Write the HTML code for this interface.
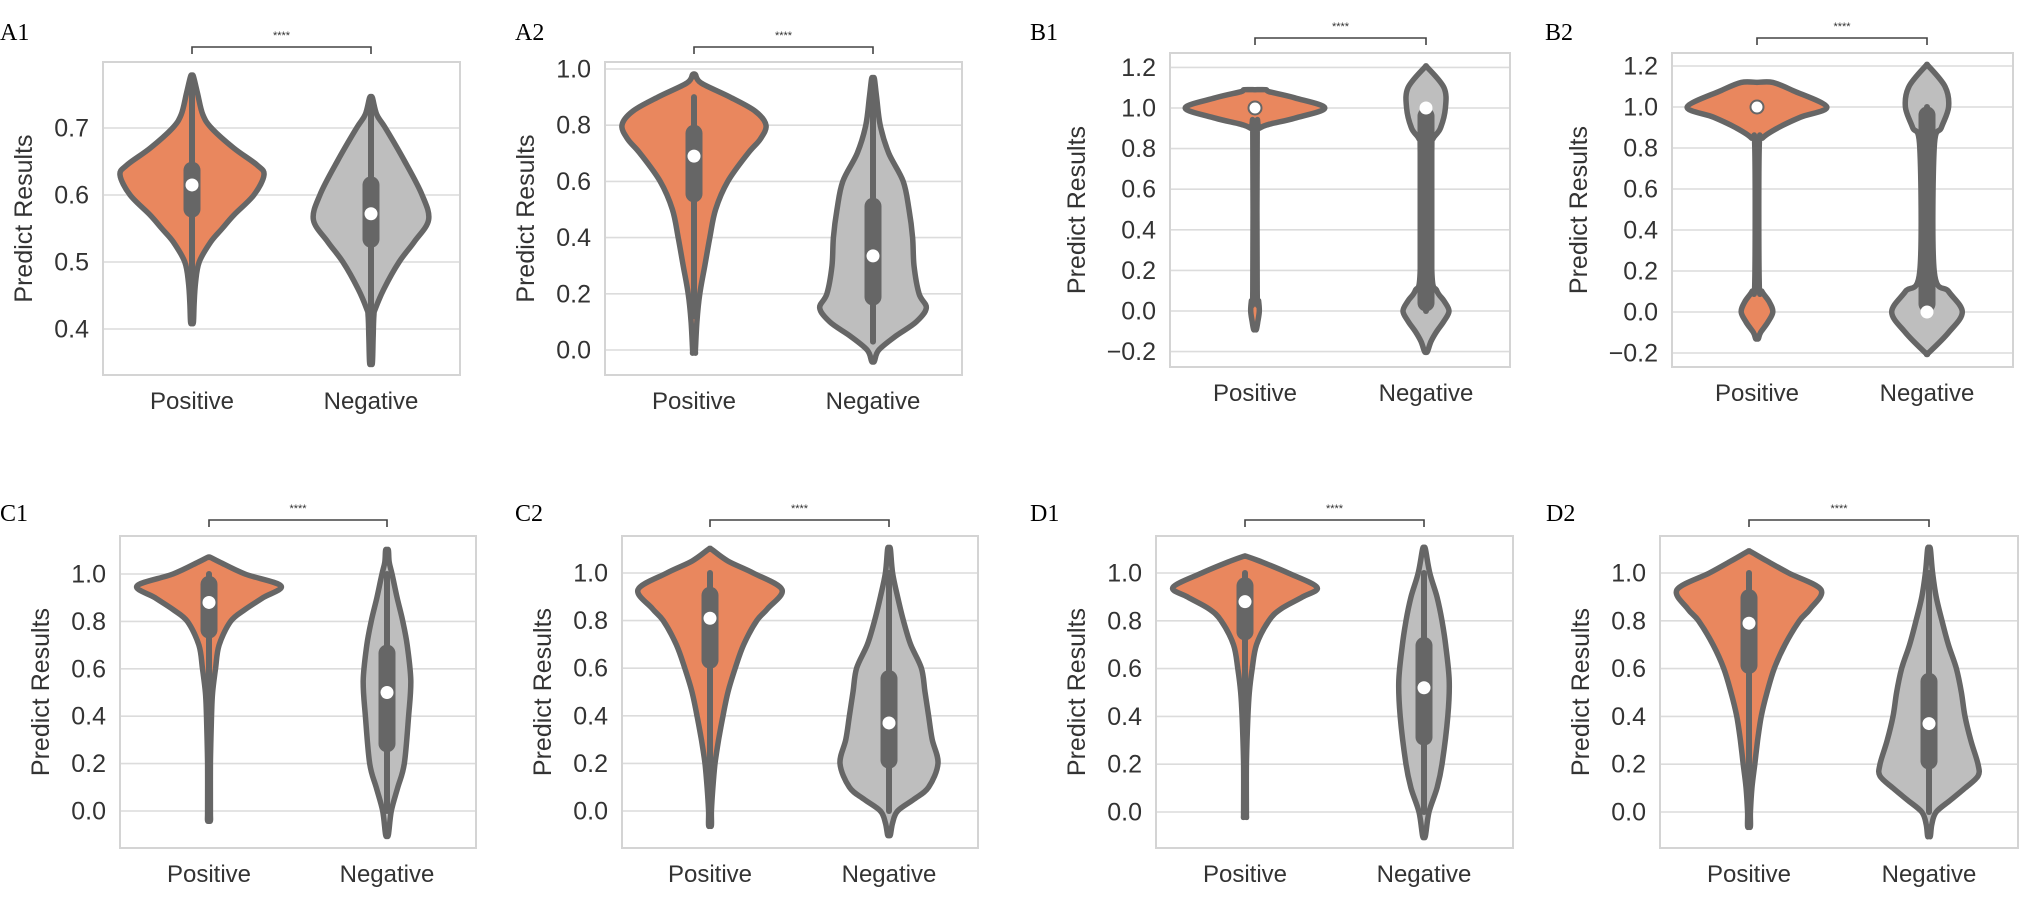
<!DOCTYPE html>
<html><head><meta charset="utf-8"><style>
html,body{margin:0;padding:0;background:#fff;}
svg{display:block;}
text{font-family:"Liberation Sans",Arial,sans-serif;fill:#333;}
.pl{font-family:"Liberation Serif",serif;font-size:24px;fill:#000;}
</style></head><body>
<svg id="fig" width="2031" height="905" viewBox="0 0 2031 905"></svg>
<script>
// ===== data =====
const categories = ["Positive","Negative"];
// tick labels per panel
const ticksA1 = [0.4,0.5,0.6,0.7];
const ticksA2 = [0.0,0.2,0.4,0.6,0.8,1.0];
const ticksB = [-0.2,0.0,0.2,0.4,0.6,0.8,1.0,1.2];
const ticksCD = [0.0,0.2,0.4,0.6,0.8,1.0];
// density profiles (value, relative width)
const a1PosY = [0.777,0.75,0.72,0.70,0.67,0.645,0.63,0.6,0.57,0.55,0.53,0.5,0.47,0.44,0.41];
const a1PosW = [0.02,0.08,0.15,0.27,0.58,0.9,1.0,0.86,0.58,0.42,0.26,0.1,0.05,0.03,0.02];
const a1NegY = [0.745,0.72,0.70,0.65,0.6,0.563,0.53,0.5,0.46,0.43,0.42,0.39,0.35];
const a1NegW = [0.02,0.08,0.2,0.47,0.71,0.8,0.6,0.39,0.18,0.06,0.04,0.03,0.02];
const a2PosY = [0.98,0.95,0.9,0.85,0.8,0.75,0.7,0.6,0.5,0.4,0.3,0.2,0.1,0.0,-0.01];
const a2PosW = [0.02,0.1,0.5,0.85,1.0,0.92,0.75,0.47,0.3,0.22,0.15,0.08,0.04,0.02,0.02];
const a2NegY = [0.965,0.9,0.8,0.7,0.6,0.5,0.4,0.3,0.2,0.15,0.1,0.05,0.0,-0.04];
const a2NegW = [0.02,0.05,0.1,0.22,0.42,0.5,0.55,0.57,0.64,0.74,0.6,0.32,0.08,0.02];
const b1PosY = [1.09,1.08,1.05,1.0,0.95,0.92,0.9,0.88,0.1,0.05,0.0,-0.05,-0.09];
const b1PosW = [0.15,0.2,0.55,0.97,0.55,0.2,0.06,0.03,0.03,0.05,0.06,0.04,0.02];
const b1NegY = [1.2,1.1,1.0,0.9,0.85,0.8,0.2,0.1,0.05,0.0,-0.05,-0.1,-0.15,-0.2];
const b1NegW = [0.02,0.25,0.27,0.2,0.1,0.08,0.08,0.15,0.25,0.32,0.25,0.15,0.07,0.02];
const b2PosY = [1.12,1.08,1.0,0.95,0.9,0.85,0.8,0.15,0.1,0.05,0.0,-0.05,-0.1,-0.13];
const b2PosW = [0.22,0.5,0.97,0.6,0.3,0.08,0.03,0.03,0.07,0.17,0.22,0.15,0.05,0.02];
const b2NegY = [1.2,1.1,1.0,0.9,0.8,0.2,0.1,0.0,-0.1,-0.2];
const b2NegW = [0.02,0.25,0.3,0.2,0.1,0.1,0.3,0.49,0.3,0.02];
const c1PosY = [1.07,1.05,1.0,0.95,0.9,0.85,0.8,0.7,0.6,0.5,0.4,0.2,0.0,-0.04];
const c1PosW = [0.02,0.15,0.5,1.0,0.75,0.5,0.3,0.14,0.09,0.05,0.035,0.02,0.02,0.02];
const c1NegY = [1.1,1.05,1.0,0.9,0.8,0.7,0.55,0.4,0.2,0.1,0.0,-0.1];
const c1NegW = [0.02,0.03,0.07,0.14,0.22,0.28,0.33,0.3,0.24,0.15,0.06,0.02];
const c2PosY = [1.1,1.05,1.0,0.93,0.85,0.8,0.7,0.6,0.5,0.4,0.3,0.2,0.1,0.0,-0.06];
const c2PosW = [0.02,0.25,0.6,1.0,0.8,0.65,0.47,0.35,0.25,0.18,0.12,0.07,0.04,0.02,0.02];
const c2NegY = [1.1,1.0,0.9,0.8,0.7,0.6,0.5,0.4,0.3,0.2,0.1,0.05,0.0,-0.05,-0.1];
const c2NegW = [0.02,0.05,0.12,0.2,0.3,0.45,0.5,0.55,0.6,0.68,0.55,0.35,0.12,0.05,0.02];
const d1PosY = [1.07,1.05,1.0,0.94,0.9,0.85,0.8,0.7,0.6,0.5,0.4,0.2,0.0,-0.02];
const d1PosW = [0.02,0.2,0.6,1.0,0.8,0.5,0.33,0.16,0.1,0.06,0.04,0.02,0.02,0.02];
const d1NegY = [1.1,1.0,0.9,0.8,0.7,0.55,0.4,0.2,0.1,0.0,-0.1];
const d1NegW = [0.02,0.08,0.18,0.25,0.3,0.35,0.33,0.25,0.18,0.07,0.02];
const d2PosY = [1.09,1.05,1.0,0.93,0.85,0.8,0.7,0.6,0.5,0.4,0.3,0.2,0.1,0.0,-0.06];
const d2PosW = [0.02,0.25,0.55,1.0,0.85,0.7,0.5,0.35,0.25,0.17,0.12,0.08,0.04,0.02,0.02];
const d2NegY = [1.1,1.0,0.9,0.8,0.7,0.6,0.5,0.4,0.3,0.2,0.15,0.1,0.05,0.0,-0.05,-0.1];
const d2NegW = [0.02,0.05,0.1,0.18,0.27,0.38,0.45,0.5,0.58,0.68,0.68,0.5,0.3,0.1,0.04,0.02];
// box stats: [whiskerLow, q1, median, q3, whiskerHigh]
const a1PosBox = [0.41,0.567,0.615,0.649,0.775];
const a1NegBox = [0.35,0.522,0.572,0.627,0.745];
const a2PosBox = [0.12,0.527,0.69,0.80,0.90];
const a2NegBox = [0.03,0.16,0.335,0.54,0.96];
const b1PosBox = [1.0,1.0,1.0,1.0,1.0];
const b1NegBox = [0.0,0.0,1.0,1.0,1.0];
const b2PosBox = [1.0,1.0,1.0,1.0,1.0];
const b2NegBox = [0.0,0.0,0.0,1.0,1.0];
const c1PosBox = [0.45,0.73,0.88,0.99,1.0];
const c1NegBox = [0.0,0.25,0.5,0.7,1.0];
const c2PosBox = [0.1,0.6,0.81,0.94,1.0];
const c2NegBox = [0.0,0.18,0.37,0.59,1.0];
const d1PosBox = [0.4,0.72,0.88,0.98,1.0];
const d1NegBox = [0.0,0.28,0.52,0.73,1.0];
const d2PosBox = [0.1,0.58,0.79,0.93,1.0];
const d2NegBox = [0.0,0.18,0.37,0.58,1.0];

// ===== layout =====
const panels = [
 {id:"a1",label:"A1",lx:0,ly:40,box:[103,62,460,375],map:[0.6,195,0.7,128],cx:[192,371],br:47,ticks:ticksA1,
  v:[[a1PosY,a1PosW,a1PosBox],[a1NegY,a1NegW,a1NegBox]]},
 {id:"a2",label:"A2",lx:515,ly:40,box:[605,62,962,375],map:[0,350,1,69],cx:[694,873],br:47,ticks:ticksA2,
  v:[[a2PosY,a2PosW,a2PosBox],[a2NegY,a2NegW,a2NegBox]]},
 {id:"b1",label:"B1",lx:1030,ly:40,box:[1170,53,1510,367],map:[0,311,1,108],cx:[1255,1426],br:38,ticks:ticksB,
  v:[[b1PosY,b1PosW,b1PosBox],[b1NegY,b1NegW,b1NegBox]]},
 {id:"b2",label:"B2",lx:1545,ly:40,box:[1672,53,2013,367],map:[0,312,1,107],cx:[1757,1927],br:38,ticks:ticksB,
  v:[[b2PosY,b2PosW,b2PosBox],[b2NegY,b2NegW,b2NegBox]]},
 {id:"c1",label:"C1",lx:0,ly:521,box:[120,536,476,848],map:[0,811,1,574],cx:[209,387],br:520,ticks:ticksCD,
  v:[[c1PosY,c1PosW,c1PosBox],[c1NegY,c1NegW,c1NegBox]]},
 {id:"c2",label:"C2",lx:515,ly:521,box:[622,536,978,848],map:[0,811,1,573],cx:[710,889],br:520,ticks:ticksCD,
  v:[[c2PosY,c2PosW,c2PosBox],[c2NegY,c2NegW,c2NegBox]]},
 {id:"d1",label:"D1",lx:1030,ly:521,box:[1156,536,1513,848],map:[0,812,1,573],cx:[1245,1424],br:520,ticks:ticksCD,
  v:[[d1PosY,d1PosW,d1PosBox],[d1NegY,d1NegW,d1NegBox]]},
 {id:"d2",label:"D2",lx:1546,ly:521,box:[1660,536,2018,848],map:[0,812,1,573],cx:[1749,1929],br:520,ticks:ticksCD,
  v:[[d2PosY,d2PosW,d2PosBox],[d2NegY,d2NegW,d2NegBox]]}
];
const NS="http://www.w3.org/2000/svg";
const svg=document.getElementById("fig");
function mk(tag,attrs,parent){const e=document.createElementNS(NS,tag);for(const k in attrs)e.setAttribute(k,attrs[k]);(parent||svg).appendChild(e);return e;}
const HALF=72;
const fills=["#E9875E","#BEBEBE"];
function fmt(t){return (t<0?"\u2212":"")+Math.abs(t).toFixed(1);}
function smoothPath(pts){
  let d="M"+pts[0][0].toFixed(1)+","+pts[0][1].toFixed(1);
  for(let i=0;i<pts.length-1;i++){
    const p0=pts[Math.max(i-1,0)],p1=pts[i],p2=pts[i+1],p3=pts[Math.min(i+2,pts.length-1)];
    const c1=[p1[0]+(p2[0]-p0[0])/6,p1[1]+(p2[1]-p0[1])/6];
    const c2=[p2[0]-(p3[0]-p1[0])/6,p2[1]-(p3[1]-p1[1])/6];
    d+="C"+c1[0].toFixed(1)+","+c1[1].toFixed(1)+" "+c2[0].toFixed(1)+","+c2[1].toFixed(1)+" "+p2[0].toFixed(1)+","+p2[1].toFixed(1);
  }
  return d;
}
panels.forEach(p=>{
  const g=mk("g",{});
  
  
  const [m0v,m0p,m1v,m1p]=p.map;
  const yS=v=>m0p+(v-m0v)*(m1p-m0p)/(m1v-m0v);
  const [x0,y0,x1,y1]=p.box;
  const pl=mk("text",{x:p.lx,y:p.ly,class:"pl"},g);pl.textContent=p.label;
  
  
  p.ticks.forEach(t=>{
    const y=yS(t);
    const gl=mk("line",{x1:x0,x2:x1,y1:y,y2:y,stroke:"#dcdcdc","stroke-width":1.6},g);
    
    
    const tl=mk("text",{x:x0-14,y:y+8.5,"text-anchor":"end","font-size":"25"},g);
    tl.textContent=fmt(t);
    
    
  });
  const fr=mk("rect",{x:x0,y:y0,width:x1-x0,height:y1-y0,fill:"none",stroke:"#d4d4d4","stroke-width":2},g);
  
  
  const tickW=Math.max(...p.ticks.map(t=>fmt(t).length));
  const tx=x0-13-tickW*14-16, ty=(y0+y1)/2;
  const yt=mk("text",{x:tx,y:ty,"text-anchor":"middle","font-size":"25",transform:"rotate(-90 "+tx+" "+ty+")"},g);
  yt.textContent="Predict Results";
  
  
  p.v.forEach((vv,i)=>{
    const [ys,ws,bx]=vv;const cx=p.cx[i];
    const right=ys.map((v,k)=>[cx+ws[k]*HALF,yS(v)]);
    const left=ys.map((v,k)=>[cx-ws[k]*HALF,yS(v)]).reverse();
    const pts=[[cx,yS(ys[0])],...right,[cx,yS(ys[ys.length-1])],...left,[cx,yS(ys[0])]];
    const vp=mk("path",{d:smoothPath(pts)+"Z",fill:fills[i],stroke:"#666","stroke-width":5.5,"stroke-linejoin":"round"},g);
    
    
    const [wl,q1,md,q3,wh]=bx;
    if(wh>wl){
      const wk=mk("line",{x1:cx,x2:cx,y1:yS(wl),y2:yS(wh),stroke:"#666","stroke-width":6,"stroke-linecap":"round"},g);
      
      
    }
    if(q3>q1){
      const bxl=mk("line",{x1:cx,x2:cx,y1:yS(q1)-8,y2:yS(q3)+8,stroke:"#666","stroke-width":17,"stroke-linecap":"round"},g);
      
      
    }
    const mc=mk("circle",{cx:cx,cy:yS(md),r:6.5,fill:"#fff",stroke:(q3>q1?"none":"#666"),"stroke-width":2},g);
    
    
    const xl=mk("text",{x:cx,y:y1+34,"text-anchor":"middle","font-size":"24"},g);
    xl.textContent=categories[i];
    
    
  });
  const b=mk("path",{d:"M"+p.cx[0]+","+(p.br+7)+"V"+p.br+"H"+p.cx[1]+"V"+(p.br+7),fill:"none",stroke:"#444","stroke-width":1.6},g);
  
  
  const st=mk("text",{x:(p.cx[0]+p.cx[1])/2,y:p.br-8,"text-anchor":"middle","font-size":"11"},g);
  st.textContent="****";
  
  
});
</script>
</body></html>
